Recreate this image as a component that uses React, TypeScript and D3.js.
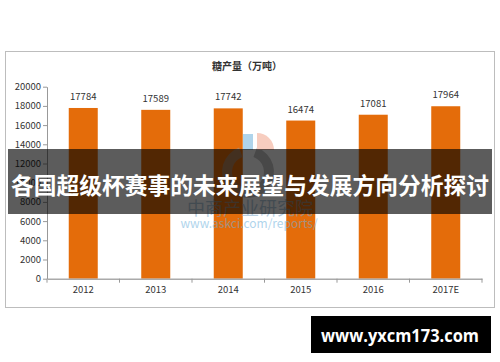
import React, { useRef, useEffect } from 'react';
import { select, scaleBand, scaleLinear, axisLeft, axisBottom, arc, format } from 'd3';

const years = ['2012', '2013', '2014', '2015', '2016', '2017E'];
const output = [17784, 17589, 17742, 16474, 17081, 17964];
const yTicks = [0, 2000, 4000, 6000, 8000, 10000, 12000, 14000, 16000, 18000, 20000];

const title = '糖产量（万吨）';
const banner = '各国超级杯赛事的未来展望与发展方向分析探讨';
const site = 'www.yxcm173.com';

const W = 500;
const H = 362;
const font = '"Noto Sans CJK SC", "Noto Sans", sans-serif';

function App() {
  const svgRef = useRef<SVGSVGElement>(null);

  useEffect(() => {
    const svg = select(svgRef.current);
    svg.selectAll('*').remove();

    const left = 47;
    const right = 482;
    const top = 86.7;
    const bottom = 278.7;

    const x = scaleBand<string>().domain(years).range([left, right]).padding(0);
    const y = scaleLinear().domain([0, 20000]).range([bottom, top]);

    svg.append('rect').attr('width', W).attr('height', H).attr('fill', '#fff');

    // chart frame
    svg
      .append('rect')
      .attr('x', 5.5)
      .attr('y', 51.5)
      .attr('width', 489)
      .attr('height', 256)
      .attr('fill', '#fff')
      .attr('stroke', '#bdbdbd');

    svg
      .append('text')
      .attr('x', 247)
      .attr('y', 65)
      .attr('text-anchor', 'middle')
      .attr('dominant-baseline', 'central')
      .attr('font-family', font)
      .attr('font-size', 10)
      .attr('font-weight', 'bold')
      .attr('fill', '#333')
      .text(title);

    const barW = x.bandwidth() * 0.4;

    svg
      .selectAll('.bar')
      .data(output)
      .join('rect')
      .attr('class', 'bar')
      .attr('x', (d, i) => (x(years[i]) as number) + (x.bandwidth() - barW) / 2)
      .attr('y', (d) => y(d))
      .attr('width', barW)
      .attr('height', (d) => bottom - y(d))
      .attr('fill', '#e46c0a');

    svg
      .selectAll('.val')
      .data(output)
      .join('text')
      .attr('class', 'val')
      .attr('x', (d, i) => (x(years[i]) as number) + x.bandwidth() / 2)
      .attr('y', (d) => y(d) - 12)
      .attr('text-anchor', 'middle')
      .attr('dominant-baseline', 'central')
      .attr('font-family', font)
      .attr('font-size', 9.5)
      .attr('fill', '#333')
      .text((d) => d);

    // watermark, drawn over the bars
    const wm = svg.append('g').attr('opacity', 0.55);
    wm.append('path')
      .attr('transform', 'translate(248,172)')
      .attr('d', arc()({ innerRadius: 16, outerRadius: 26, startAngle: 0.35, endAngle: 2 * Math.PI - 0.35 } as any))
      .attr('fill', '#9a9a9a');
    wm.append('rect').attr('x', 243).attr('y', 134).attr('width', 10).attr('height', 16).attr('fill', '#6fb2dc');
    wm.append('path')
      .attr('transform', 'translate(257,150)')
      .attr('d', arc()({ innerRadius: 0, outerRadius: 17, startAngle: 0, endAngle: Math.PI / 2 } as any))
      .attr('fill', '#f2a58c');
    wm.append('text')
      .attr('x', 250)
      .attr('y', 207)
      .attr('text-anchor', 'middle')
      .attr('dominant-baseline', 'central')
      .attr('font-family', font)
      .attr('font-size', 18)
      .attr('fill', '#7fa9c9')
      .text('中商产业研究院');
    wm.append('text')
      .attr('x', 249)
      .attr('y', 222)
      .attr('text-anchor', 'middle')
      .attr('dominant-baseline', 'central')
      .attr('font-family', font)
      .attr('font-size', 12)
      .attr('fill', '#6fb2dc')
      .text('www.askci.com/reports/');

    // y axis
    const yAxis = axisLeft(y).tickValues(yTicks).tickFormat(format('d')).tickSize(4).tickSizeOuter(0);
    const gy = svg.append('g').attr('transform', `translate(${left},0)`).call(yAxis);
    gy.select('.domain').attr('stroke', '#999');
    gy.selectAll('.tick line').attr('stroke', '#999');
    gy.selectAll('.tick text')
      .attr('font-family', font)
      .attr('font-size', 9.5)
      .attr('fill', '#333')
      .attr('x', -6);

    // x axis
    const xAxis = axisBottom(x).tickSize(0).tickSizeOuter(0);
    const gx = svg.append('g').attr('transform', `translate(0,${bottom})`).call(xAxis);
    gx.select('.domain').attr('stroke', '#aaa').attr('stroke-width', 1.5);
    gx.selectAll('.tick text')
      .attr('font-family', font)
      .attr('font-size', 9.5)
      .attr('fill', '#333')
      .attr('dy', 0)
      .attr('y', 14);
    gx.selectAll('.sep')
      .data([...years.map((d) => x(d) as number), right])
      .join('line')
      .attr('class', 'sep')
      .attr('x1', (d) => d)
      .attr('x2', (d) => d)
      .attr('y1', 0)
      .attr('y2', 4)
      .attr('stroke', '#999');

    // banner overlay
    svg
      .append('rect')
      .attr('x', 8)
      .attr('y', 149)
      .attr('width', 484)
      .attr('height', 65)
      .attr('fill', '#000')
      .attr('opacity', 0.64);
    svg
      .append('text')
      .attr('x', 250)
      .attr('y', 184)
      .attr('text-anchor', 'middle')
      .attr('dominant-baseline', 'central')
      .attr('font-family', font)
      .attr('font-size', 23)
      .attr('font-weight', 'bold')
      .attr('fill', '#fff')
      .attr('textLength', 478)
      .attr('lengthAdjust', 'spacingAndGlyphs')
      .text(banner);

    // site tag
    svg.append('rect').attr('x', 311).attr('y', 316).attr('width', 180).attr('height', 37).attr('fill', '#000');
    svg
      .append('text')
      .attr('x', 400)
      .attr('y', 335)
      .attr('text-anchor', 'middle')
      .attr('dominant-baseline', 'central')
      .attr('font-family', '"Open Sans", "DejaVu Sans", sans-serif')
      .attr('font-size', 18)
      .attr('font-weight', 'bold')
      .attr('fill', '#fff')
      .attr('textLength', 158)
      .attr('lengthAdjust', 'spacingAndGlyphs')
      .text(site);
  }, []);

  return (
    <svg
      ref={svgRef}
      width={W}
      height={H}
      style={{ position: 'absolute', left: 0, top: 0, display: 'block' }}
    />
  );
}

export default App;
